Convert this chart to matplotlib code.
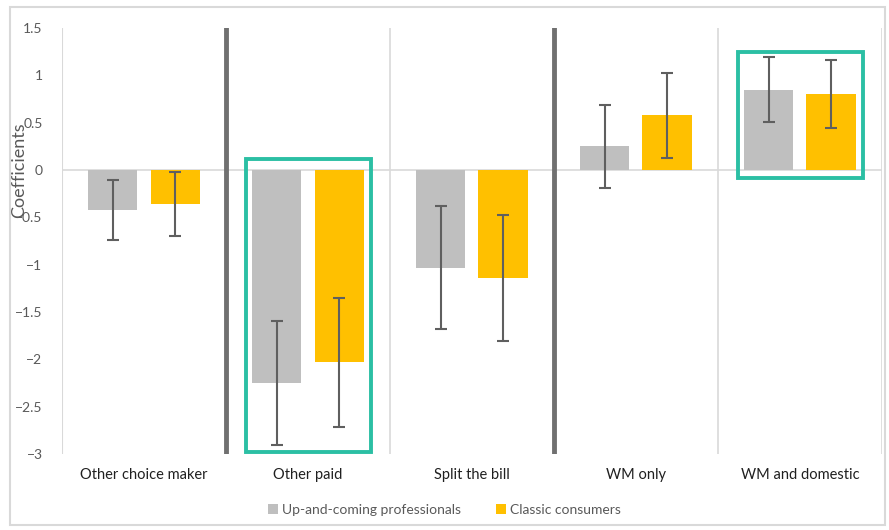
import numpy as np
import matplotlib.pyplot as plt
from matplotlib.patches import Rectangle

plt.rcParams['font.family'] = ['Lato', 'DejaVu Sans']

categories = ["Other choice maker", "Other paid", "Split the bill", "WM only", "WM and domestic"]
series_names = ["Up-and-coming professionals", "Classic consumers"]
professionals = [-0.42, -2.25, -1.03, 0.25, 0.85]
professionals_err = [0.32, 0.66, 0.65, 0.44, 0.34]
classic = [-0.36, -2.03, -1.14, 0.58, 0.80]
classic_err = [0.34, 0.68, 0.67, 0.45, 0.36]

# highlighted groups: (category index, y bottom, y top)
highlights = [(1, -2.98, 0.12), (4, -0.08, 1.25)]

gray = "#BFBFBF"
gold = "#FFC000"
teal = "#2BBFA4"
txt = "#595959"

fig = plt.figure(figsize=(8.89, 5.30), dpi=100)
ax = fig.add_axes([0.0697, 0.1434, 0.9223, 0.8036])

x = np.arange(len(categories))
w = 0.30
off = 0.19

ax.bar(x - off, professionals, w, color=gray, label=series_names[0], zorder=2)
ax.bar(x + off, classic, w, color=gold, label=series_names[1], zorder=2)
ax.errorbar(x - off, professionals, yerr=professionals_err, fmt='none',
            ecolor="#5f5f5f", elinewidth=1.5, capsize=4, capthick=1.5, zorder=3)
ax.errorbar(x + off, classic, yerr=classic_err, fmt='none',
            ecolor="#5f5f5f", elinewidth=1.5, capsize=4, capthick=1.5, zorder=3)

ax.set_xlim(-0.5, len(categories) - 0.5)
ax.set_ylim(-3, 1.5)
ax.set_yticks(np.arange(-3, 1.51, 0.5))
ax.set_yticklabels(["\u22123", "\u22122.5", "\u22122", "\u22121.5", "\u22121", "\u22120.5", "0", "0.5", "1", "1.5"])
ax.set_xticks(x)
ax.set_xticklabels(categories, fontsize=10.5, color="#202020")
ax.tick_params(axis='y', length=0, labelsize=10, colors=txt, pad=14)
ax.tick_params(axis='x', length=0, pad=10)
ax.set_ylabel("Coefficients", fontsize=13, color=txt)
ax.yaxis.set_label_coords(-0.043, 0.667)

for s in ax.spines.values():
    s.set_visible(False)

# zero line and group separators
ax.axhline(0, color="#d9d9d9", lw=1.2, zorder=1)
ax.axvline(-0.5, color="#d9d9d9", lw=1.5, zorder=1)
for xv in [1.5, 3.5, 4.5]:
    ax.axvline(xv, color="#d9d9d9", lw=1.2, zorder=1)
for xv in [0.5, 2.5]:
    ax.axvline(xv, color="#707070", lw=3.5, zorder=1)

for i, y0, y1 in highlights:
    ax.add_patch(Rectangle((i - 0.378, y0), 0.765, y1 - y0, fill=False,
                           edgecolor=teal, lw=2.8, zorder=4, clip_on=False))

fig.legend(loc='center', bbox_to_anchor=(0.5, 0.038), ncol=2, frameon=False,
           fontsize=10, labelcolor=txt, handlelength=0.7, handleheight=0.7,
           handletextpad=0.3, columnspacing=2.5)

# outer frame
fig.patches.append(Rectangle((0.011, 0.01), 0.984, 0.976, transform=fig.transFigure,
                             fill=False, edgecolor="#d9d9d9", lw=1.5))

fig.savefig("out.png", dpi=100)
